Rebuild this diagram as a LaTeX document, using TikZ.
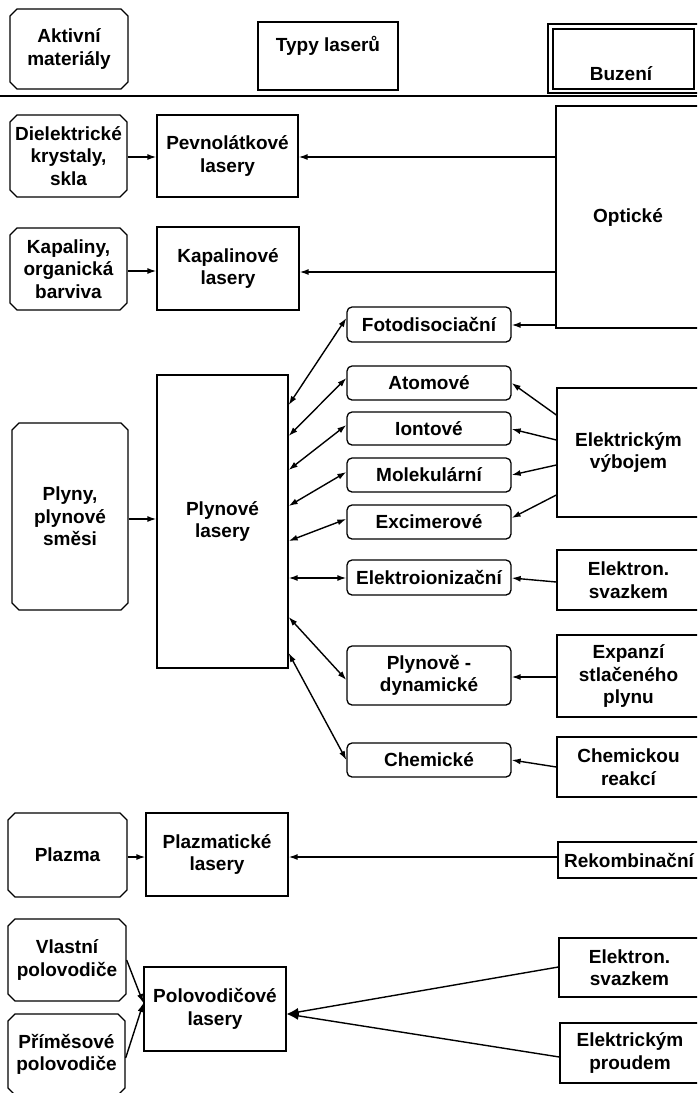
\documentclass[tikz,border=0pt]{standalone}
\usepackage{fontspec}
\setmainfont{Liberation Sans}
\usetikzlibrary{shapes.misc,arrows.meta,calc}
\begin{document}
\begin{tikzpicture}[x=1pt,y=-1pt,
  every node/.style={font=\fontsize{19}{22.5}\selectfont\bfseries, align=center, inner sep=0pt, line width=1.3pt},
  box/.style={draw, rectangle},
  rbox/.style={draw, rectangle, rounded corners=5pt, minimum width=164pt},
  cbox/.style={draw, chamfered rectangle, chamfered rectangle xsep=3.5pt, chamfered rectangle ysep=3.5pt},
  rtbox/.style={draw, rectangle, minimum width=143pt},
  conn/.style={line width=1.4pt, -{Latex[length=9pt,width=6pt]}},
  bconn/.style={line width=1.4pt, -{Latex[length=12pt,width=8pt]}},
  dconn/.style={line width=1.4pt, {Latex[length=9pt,width=6pt]}-{Latex[length=9pt,width=6pt]}},
]
\useasboundingbox (0,0) rectangle (697,1093);
\clip (0,0) rectangle (697,1093);

% header
\node[cbox, minimum width=118pt, minimum height=80pt] (akt) at (69,49) {Aktivní\\materiály};
\node[box, minimum width=140pt, minimum height=68pt] (typy) at (328,56) {};
\node (typyT) at (328,46) {Typy laserů};
\node[box, minimum width=152pt, minimum height=69pt] (buzO) at (624,58.5) {};
\node[box, minimum width=141pt, minimum height=60pt] (buzI) at (623.5,59) {};
\node (buzT) at (621,74) {Buzení};
\draw[line width=2.5pt] (0,96) -- (697,96);

% row 1, 2
\node[cbox, minimum width=117pt, minimum height=82pt] (diel) at (68.5,156) {Dielektrické\\krystaly,\\skla};
\node[box, minimum width=141pt, minimum height=82pt] (pevn) at (227.5,156) {Pevnolátkové\\lasery};
\node[box, minimum width=144pt, minimum height=222pt] (opt) at (628,217) {Optické};
\node[cbox, minimum width=117pt, minimum height=82pt] (kap) at (68.5,269) {Kapaliny,\\organická\\barviva};
\node[box, minimum width=142pt, minimum height=83pt] (kapl) at (228,268.5) {Kapalinové\\lasery};

\draw[conn] (diel.east |- 0,157) -- (pevn.west |- 0,157);
\draw[conn] (opt.west |- 0,157) -- (pevn.east |- 0,157);
\draw[conn] (kap.east |- 0,271) -- (kapl.west |- 0,271);
\draw[conn] (opt.west |- 0,272) -- (kapl.east |- 0,272);

% gas
\node[cbox, minimum width=116pt, minimum height=187pt] (plyn) at (70,516.5) {Plyny,\\plynové\\směsi};
\node[box, minimum width=131pt, minimum height=293pt] (plynl) at (222.5,521.5) {Plynové\\lasery};
\draw[conn] (plyn.east |- 0,519) -- (plynl.west |- 0,519);

\node[rbox, minimum height=35pt] (foto) at (429,324.5) {Fotodisociační};
\node[rbox, minimum height=34pt] (atom) at (429,383) {Atomové};
\node[rbox, minimum height=33pt] (iont) at (429,428.5) {Iontové};
\node[rbox, minimum height=34pt] (mol) at (429,475) {Molekulární};
\node[rbox, minimum height=34pt] (exc) at (429,522) {Excimerové};
\node[rbox, minimum height=35pt] (eion) at (429,577.5) {Elektroionizační};
\node[rbox, minimum height=59pt] (plyd) at (429,675.5) {Plynově -\\dynamické};
\node[rbox, minimum height=34pt] (chem) at (429,760) {Chemické};

\node[rtbox, minimum height=129pt] (evyb) at (628.5,452.5) {Elektrickým\\výbojem};
\node[rtbox, minimum height=60pt] (esv1) at (628.5,580) {Elektron.\\svazkem};
\node[rtbox, minimum height=82pt] (exp) at (628.5,676) {Expanzí\\stlačeného\\plynu};
\node[rtbox, minimum height=60pt] (chr) at (628.5,767) {Chemickou\\reakcí};

\draw[dconn] (plynl.east |- 0,405) -- (foto.west |- 0,318);
\draw[dconn] (plynl.east |- 0,436) -- (atom.west |- 0,378);
\draw[dconn] (plynl.east |- 0,470) -- (iont.west |- 0,425);
\draw[dconn] (plynl.east |- 0,506) -- (mol.west |- 0,472);
\draw[dconn] (plynl.east |- 0,541) -- (exc.west |- 0,519);
\draw[dconn] (plynl.east |- 0,578) -- (eion.west |- 0,578);
\draw[dconn] (plynl.east |- 0,617) -- (plyd.west |- 0,680);
\draw[dconn] (plynl.east |- 0,653) -- (chem.west |- 0,760);

\draw[conn] (opt.west |- 0,325) -- (foto.east |- 0,325);
\draw[conn] (evyb.west |- 0,415) -- (atom.east |- 0,383);
\draw[conn] (evyb.west |- 0,440) -- (iont.east |- 0,429);
\draw[conn] (evyb.west |- 0,465) -- (mol.east |- 0,475);
\draw[conn] (evyb.west |- 0,495) -- (exc.east |- 0,518);
\draw[conn] (esv1.west |- 0,582) -- (eion.east |- 0,578);
\draw[conn] (exp.west |- 0,677) -- (plyd.east |- 0,677);
\draw[conn] (chr.west |- 0,767) -- (chem.east |- 0,760);

% plasma
\node[cbox, minimum width=119pt, minimum height=84pt] (plaz) at (67.5,855) {Plazma};
\node[box, minimum width=142pt, minimum height=83pt] (plazl) at (217,854.5) {Plazmatické\\lasery};
\node[rtbox, minimum width=142pt, minimum height=36pt] (rek) at (629,860) {Rekombinační};
\draw[conn] (plaz.east |- 0,857) -- (plazl.west |- 0,857);
\draw[conn] (rek.west |- 0,857) -- (plazl.east |- 0,857);

% semiconductors
\node[cbox, minimum width=118pt, minimum height=82pt] (vlas) at (67,960) {Vlastní\\polovodiče};
\node[cbox, minimum width=117pt, minimum height=81pt] (prim) at (66.5,1054.5) {Příměsové\\polovodiče};
\node[box, minimum width=142pt, minimum height=84pt] (polo) at (215,1009) {Polovodičové\\lasery};
\node[rtbox, minimum width=141pt, minimum height=59pt] (esv2) at (629.5,967.5) {Elektron.\\svazkem};
\node[rtbox, minimum width=140pt, minimum height=60pt] (epr) at (630,1053) {Elektrickým\\proudem};

\draw[conn] (vlas.east |- 0,960) -- (polo.west |- 0,1003);
\draw[conn] (prim.east |- 0,1058) -- (polo.west |- 0,1003);
\draw[bconn] (esv2.west |- 0,967) -- (polo.east |- 0,1014);
\draw[bconn] (epr.west |- 0,1057) -- (polo.east |- 0,1014);
\end{tikzpicture}
\end{document}
